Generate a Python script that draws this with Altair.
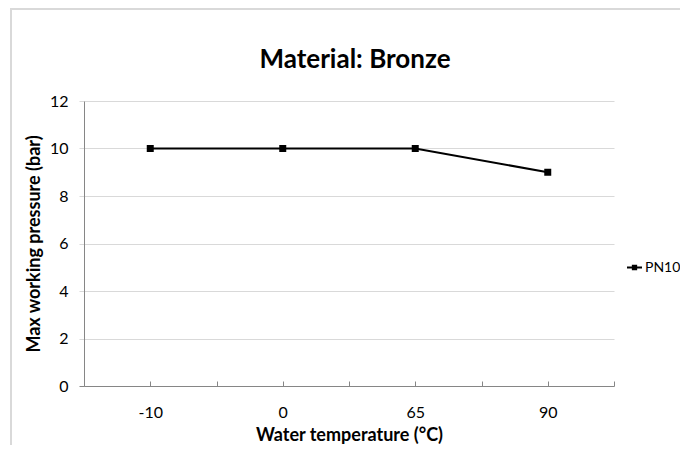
import json
import altair as alt
import pandas as pd

temps = ["-10", "0", "65", "90"]
pressure = [10, 10, 10, 9]
series_name = "PN10"
y_ticks = [0, 2, 4, 6, 8, 10, 12]

df = pd.DataFrame({
    "temp": temps,
    "pos": list(range(len(temps))),
    "pressure": pressure,
    "series": [series_name] * len(temps),
})

n = len(temps)
x_tick_vals = [i * 0.5 - 0.5 for i in range(2 * n + 1)]
label_expr = "datum.value % 1 === 0 ? " + json.dumps(temps) + "[datum.value] : ''"

FONT = "Lato"
GRID = "#d9d9d9"
AXIS = "#868686"

x_enc = alt.X(
    "pos:Q",
    scale=alt.Scale(domain=[-0.5, n - 0.5], nice=False, zero=False),
    axis=alt.Axis(
        values=x_tick_vals,
        labelExpr=label_expr,
        title="Water temperature (°C)",
        domain=False,
        grid=False,
        ticks=True,
        tickSize=5,
        offset=-5,
        tickColor=AXIS,
        labelPadding=18,
        labelFontSize=16,
        labelColor="#000000",
        labelFont=FONT,
        titleFont=FONT,
        titleFontSize=18,
        titleFontWeight="bold",
        titleColor="#000000",
        titlePadding=6,
    ),
)

y_enc = alt.Y(
    "pressure:Q",
    scale=alt.Scale(domain=[0, 12], nice=False),
    axis=alt.Axis(
        values=y_ticks,
        title="Max working pressure (bar)",
        domain=True,
        domainColor=AXIS,
        grid=True,
        gridColor=alt.condition("datum.value === 0", alt.value(AXIS), alt.value(GRID)),
        tickColor=alt.condition("datum.value === 0", alt.value(AXIS), alt.value(GRID)),
        tickSize=5,
        labelPadding=11,
        labelFontSize=16,
        labelColor="#000000",
        labelFont=FONT,
        titleFont=FONT,
        titleFontSize=18,
        titleFontWeight="bold",
        titleColor="#000000",
        titlePadding=6,
    ),
)

base = alt.Chart(df)

line = base.mark_line(color="black", strokeWidth=2).encode(
    x=x_enc,
    y=y_enc,
    color=alt.Color(
        "series:N",
        scale=alt.Scale(range=["black"]),
        legend=alt.Legend(
            title=None,
            orient="none",
            legendX=542,
            legendY=158,
            symbolType="M-1,0L1,0M-0.22,-0.22L0.22,-0.22L0.22,0.22L-0.22,0.22Z",
            symbolSize=225,
            symbolStrokeWidth=2,
            symbolFillColor="black",
            symbolStrokeColor="black",
            labelFont=FONT,
            labelFontSize=14,
            labelColor="#000000",
            labelOffset=2,
        ),
    ),
)

points = base.mark_point(
    shape="square", filled=True, size=49, color="black", opacity=1
).encode(x=x_enc, y=y_enc)

border_top = alt.Chart(df).mark_rule(color=GRID, strokeWidth=2).encode(
    x=alt.value(-74), x2=alt.value(604), y=alt.value(-92)
)
border_left = alt.Chart(df).mark_rule(color=GRID, strokeWidth=2).encode(
    x=alt.value(-73), y=alt.value(-93), y2=alt.value(360)
)

chart = (
    alt.layer(border_top, border_left, line, points)
    .properties(
        width=530,
        height=285,
        title=alt.TitleParams(
            "Material: Bronze",
            font=FONT,
            fontSize=26,
            fontWeight="bold",
            color="#000000",
            anchor="middle",
            dx=6,
            offset=0,
            dy=66,
        ),
        autosize=alt.AutoSizeParams(type="none"),
        padding={"left": 76, "top": 93, "right": 66, "bottom": 59},
    )
    .configure_view(stroke=None)
)

chart.save("out.html", embed_options={"renderer": "svg", "actions": False})
